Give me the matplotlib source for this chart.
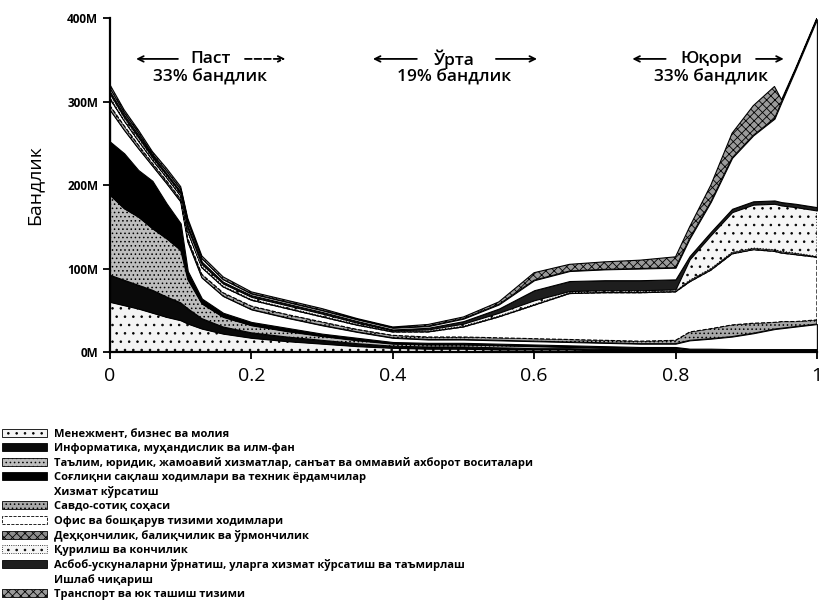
import matplotlib
matplotlib.use('Agg')
import matplotlib.pyplot as plt
from matplotlib.patches import Patch

plt.rcParams['font.family'] = ['Open Sans', 'DejaVu Sans']
plt.rcParams['hatch.linewidth'] = 0.6

# ---- data (employment in millions vs. probability of computerisation) ----
prob = [0, .02, .04, .06, .08, .10, .11, .13, .16, .20, .25, .30, .35, .40, .45,
        .50, .55, .60, .65, .70, .75, .80, .82, .85, .88, .91, .94, .95, .97, 1.0]

management   = [60, 56, 52, 47, 42, 38, 34, 28, 22, 17, 13, 10, 7, 5, 4, 4, 3, 3, 3, 2, 2, 2, 1, 1, 1, 1, 1, 1, 1, 1]
computer     = [32, 30, 28, 27, 24, 21, 18, 12, 8, 6, 5, 4, 3, 2, 2, 2, 2, 1, 1, 1, 1, 1, 1, 1, .5, .5, .5, .5, .5, .5]
education    = [96, 86, 82, 74, 70, 63, 35, 18, 12, 9, 7, 5, 4, 3, 3, 3, 3, 3, 2, 2, 2, 2, 1, 1, 1, 1, 1, 1, 1, 1]
healthcare   = [64, 66, 56, 57, 42, 32, 10, 6, 5, 4, 4, 3, 3, 2, 2, 2, 2, 2, 2, 2, 1, 1, 1, 1, 1, 1, 1, 1, 1, 1]
service      = [38, 28, 26, 18, 24, 26, 35, 25, 20, 15, 12, 10, 7, 5, 4, 4, 4, 4, 4, 4, 4, 4, 10, 12, 15, 19, 24, 25, 27, 30]
sales        = [5, 5, 4, 3, 3, 3, 4, 4, 4, 4, 4, 4, 3, 3, 3, 3, 3, 3, 3, 3, 3, 4, 10, 12, 14, 12, 8, 8, 6, 5]
office       = [8, 6, 5, 4, 4, 4, 8, 8, 7, 7, 7, 6, 5, 4, 6, 12, 25, 40, 55, 57, 58, 58, 60, 70, 85, 88, 85, 82, 80, 75]
farming      = [2, 1, 1, 1, 1, 1, 1, 1, 1, 1, 1, 1, 1, 1, 1, 1, 1, 1, 1, 1, 1, 1, 2, 2, 2, 2, 2, 2, 2, 1]
construction = [4, 3, 3, 2, 2, 2, 3, 3, 3, 3, 3, 3, 2, 1, 2, 3, 4, 5, 2, 2, 2, 2, 25, 40, 48, 52, 55, 55, 55, 55]
installation = [3, 3, 3, 2, 2, 2, 3, 3, 2, 2, 2, 2, 2, 1, 2, 3, 5, 12, 12, 12, 12, 12, 4, 4, 4, 4, 4, 4, 4, 4]
production   = [4, 3, 3, 2, 3, 3, 5, 4, 3, 2, 2, 2, 2, 2, 2, 3, 5, 12, 12, 13, 14, 14, 21, 36, 61, 79, 98, 120, 161, 225]
transport    = [4, 3, 3, 3, 3, 3, 4, 3, 3, 2, 2, 2, 1, 1, 2, 2, 3, 9, 8, 9, 10, 13, 14, 20, 29.5, 35.5, 38.5, 2.5, 1.5, 1.5]

labels = [
    "Менежмент, бизнес ва молия",
    "Информатика, муҳандислик ва илм-фан",
    "Таълим, юридик, жамоавий хизматлар, санъат ва оммавий ахборот воситалари",
    "Соғлиқни сақлаш ходимлари ва техник ёрдамчилар",
    "Хизмат кўрсатиш",
    "Савдо-сотиқ соҳаси",
    "Офис ва бошқарув тизими ходимлари",
    "Деҳқончилик, балиқчилик ва ўрмончилик",
    "Қурилиш ва кончилик",
    "Асбоб-ускуналарни ўрнатиш, уларга хизмат кўрсатиш ва таъмирлаш",
    "Ишлаб чиқариш",
    "Транспорт ва юк ташиш тизими",
]
series = [management, computer, education, healthcare, service, sales, office,
          farming, construction, installation, production, transport]

x_ticks = [0, 0.2, 0.4, 0.6, 0.8, 1]
x_ticklabels = ["0", "0.2", "0.4", "0.6", "0.8", "1"]
y_ticks = [0, 100, 200, 300, 400]
y_ticklabels = ["0M", "100M", "200M", "300M", "400M"]

# ---- styles ----
fills = ['#f4f4f4', '#0a0a0a', '#bdbdbd', '#000000', 'white', '#a8a8a8',
         'white', '#8c8c8c', '#f6f6f6', '#1e1e1e', 'white', '#9a9a9a']
hatches = ['..', None, '....', None, None, '....', None, 'xxxx', '..', None, None, 'xxxx']
lstyles = ['-', '-', '-', '-', '-', '-', '--', '-', ':', '-', '-', '-']

fig = plt.figure(figsize=(8.21, 6), dpi=100)
ax = fig.add_axes([0.134, 0.4133, 0.861, 0.5567])

polys = ax.stackplot(prob, *series, colors=fills, edgecolor='black', linewidth=0.8)
for p, h, ls in zip(polys, hatches, lstyles):
    if h:
        p.set_hatch(h)
    p.set_linestyle(ls)

ax.set_xlim(0, 1)
ax.set_ylim(0, 400)
ax.set_xticks(x_ticks)
ax.set_xticklabels(x_ticklabels, fontsize=14)
ax.set_yticks(y_ticks)
ax.set_yticklabels(y_ticklabels, fontsize=8.5, fontweight='bold')
ax.tick_params(axis='both', direction='out', length=5, width=1.3)
ax.tick_params(axis='x', pad=6)
for s in ['top', 'right']:
    ax.spines[s].set_visible(False)
for s in ['left', 'bottom']:
    ax.spines[s].set_linewidth(1.6)
ax.set_ylabel("Бандлик", fontsize=14, labelpad=17)

# ---- region annotations ----
def region(xc, name, share, xl0, xl1, xr0, xr1, dashed_right=False):
    ax.text(xc, 351, name, ha='center', va='center', fontsize=12.5, fontweight='semibold')
    ax.text(xc, 329, share, ha='center', va='center', fontsize=12.5, fontweight='semibold')
    ax.annotate('', xy=(xl0, 351), xytext=(xl1, 351),
                arrowprops=dict(arrowstyle='->', lw=1.3, color='black'))
    ax.annotate('', xy=(xr1, 351), xytext=(xr0, 351),
                arrowprops=dict(arrowstyle='->', lw=1.3, color='black',
                                linestyle='--' if dashed_right else '-'))

region(0.142, "Паст", "33% бандлик", 0.033, 0.10, 0.187, 0.252, dashed_right=True)
region(0.487, "Ўрта", "19% бандлик", 0.368, 0.438, 0.542, 0.608)
region(0.850, "Юқори", "33% бандлик", 0.735, 0.79, 0.91, 0.957)

# ---- legend ----
handles = []
for f, h, ls, lab in zip(fills, hatches, lstyles, labels):
    if f == 'white' and ls == '-':
        handles.append(Patch(facecolor='white', edgecolor='white', label=lab))
    else:
        handles.append(Patch(facecolor=f, edgecolor='black', hatch=h, linestyle=ls,
                             linewidth=0.6, label=lab))
fig.legend(handles=handles, loc='upper left', bbox_to_anchor=(0.003, 1 - 429 / 600),
           frameon=False, prop={'size': 8.0, 'weight': 'bold'},
           handlelength=4.0, handleheight=0.75, labelspacing=0.27, handletextpad=0.6,
           borderpad=0, borderaxespad=0)

fig.savefig('out.png', dpi=100)
